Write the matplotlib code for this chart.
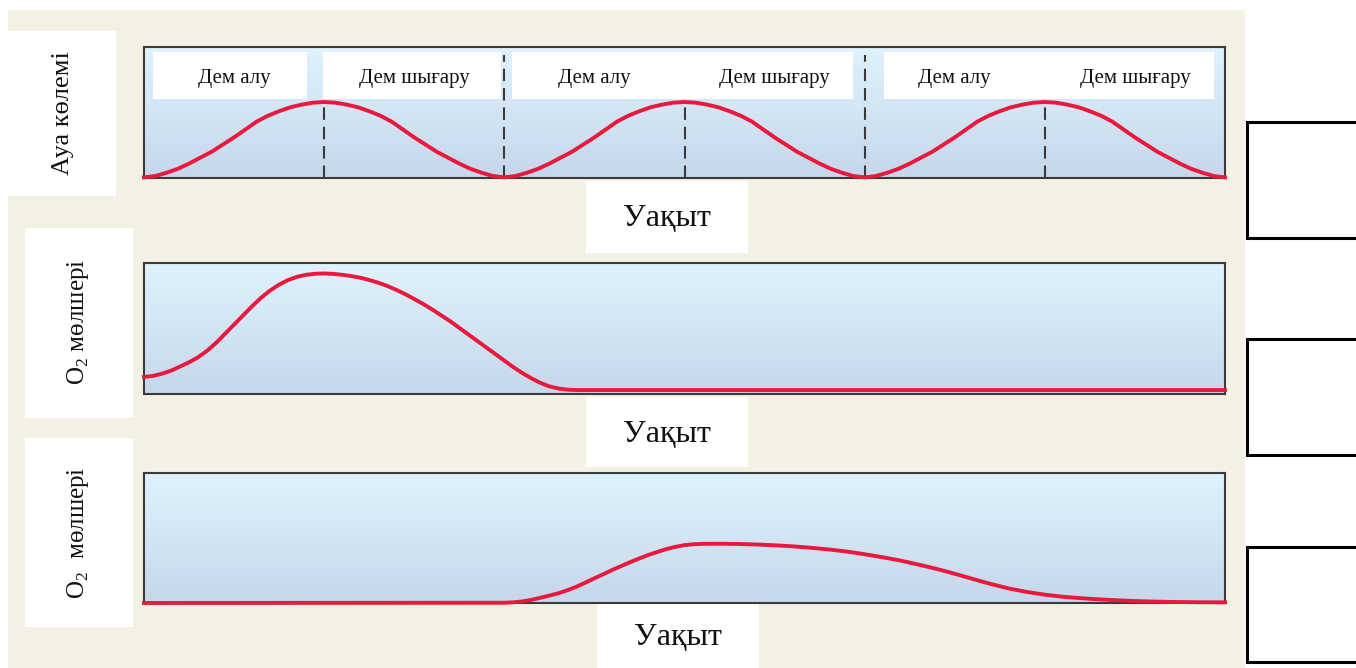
import numpy as np
import matplotlib.pyplot as plt
from matplotlib.patches import Rectangle

plt.rcParams['font.family'] = ['Liberation Serif', 'DejaVu Serif']
plt.rcParams['mathtext.fontset'] = 'custom'
plt.rcParams['mathtext.rm'] = 'Liberation Serif'

# Ауа көлемі (3 тыныс циклі), әр 0.125 бірлік сайын
t_air = np.arange(0, 12.001, 0.125)
air_volume = [0.05, 0.15, 0.4, 0.7, 1.1, 1.55, 2.0, 2.55, 3.1, 3.7, 4.3, 4.75, 5.1, 5.4, 5.6, 5.75,
              5.8, 5.75, 5.6, 5.4, 5.1, 4.75, 4.3, 3.7, 3.1, 2.55, 2.0, 1.55, 1.1, 0.7, 0.4, 0.15,
              0.05, 0.15, 0.4, 0.7, 1.1, 1.55, 2.0, 2.55, 3.1, 3.7, 4.3, 4.75, 5.1, 5.4, 5.6, 5.75,
              5.8, 5.75, 5.6, 5.4, 5.1, 4.75, 4.3, 3.7, 3.1, 2.55, 2.0, 1.55, 1.1, 0.7, 0.4, 0.15,
              0.05, 0.15, 0.4, 0.7, 1.1, 1.55, 2.0, 2.55, 3.1, 3.7, 4.3, 4.75, 5.1, 5.4, 5.6, 5.75,
              5.8, 5.75, 5.6, 5.4, 5.1, 4.75, 4.3, 3.7, 3.1, 2.55, 2.0, 1.55, 1.1, 0.7, 0.4, 0.15,
              0.05]
phase_labels = ["Дем алу", "Дем шығару", "Дем алу", "Дем шығару", "Дем алу", "Дем шығару"]
phase_mid = [1, 3, 5, 7, 9, 11]
peak_marks = [2, 6, 10]
cycle_marks = [4, 8]

# O2 мөлшері, 2-график
t_o2a = [0.0, 0.1, 0.2, 0.3, 0.4, 0.5, 0.6, 0.7, 0.8, 0.9, 1.0, 1.1, 1.2, 1.3, 1.4, 1.5,
         1.6, 1.7, 1.8, 1.9, 2.0, 2.1, 2.2, 2.3, 2.4, 2.5, 2.6, 2.7, 2.8, 2.9, 3.0, 3.1,
         3.2, 3.3, 3.4, 3.5, 3.6, 3.7, 3.8, 3.9, 4.0, 4.1, 4.2, 4.3, 4.4, 4.5, 4.6, 4.7,
         4.8, 12.0]
o2a = [1.3, 1.38, 1.55, 1.78, 2.1, 2.42, 2.8, 3.3, 3.9, 4.6, 5.3, 6.0, 6.7, 7.35, 7.9, 8.35,
       8.7, 8.95, 9.1, 9.18, 9.2, 9.17, 9.1, 9.0, 8.88, 8.7, 8.5, 8.25, 7.95, 7.62, 7.25, 6.87,
       6.45, 6.0, 5.55, 5.05, 4.55, 4.05, 3.55, 3.05, 2.55, 2.05, 1.6, 1.2, 0.85, 0.58, 0.42, 0.33,
       0.3, 0.3]

# O2 мөлшері, 3-график
t_o2b = [0.0, 4.0, 4.1, 4.2, 4.3, 4.4, 4.5, 4.6, 4.7, 4.8, 4.9, 5.0, 5.1, 5.2, 5.3, 5.4,
         5.5, 5.6, 5.7, 5.8, 5.9, 6.0, 6.1, 6.2, 6.4, 6.6, 6.8, 7.0, 7.2, 7.4, 7.6, 7.8,
         8.0, 8.2, 8.4, 8.6, 8.8, 9.0, 9.2, 9.4, 9.6, 9.8, 10.0, 10.2, 10.4, 10.6, 10.8, 11.0,
         11.2, 11.4, 11.7, 12.0]
o2b = [0.0, 0.02, 0.05, 0.12, 0.24, 0.4, 0.57, 0.75, 0.98, 1.25, 1.57, 1.9, 2.22, 2.55, 2.85, 3.15,
       3.43, 3.7, 3.93, 4.15, 4.32, 4.45, 4.52, 4.55, 4.56, 4.54, 4.5, 4.44, 4.36, 4.25, 4.12, 3.96,
       3.75, 3.52, 3.26, 2.95, 2.62, 2.25, 1.85, 1.46, 1.12, 0.85, 0.64, 0.48, 0.37, 0.28, 0.21, 0.15,
       0.11, 0.08, 0.06, 0.05]

W, H = 1356, 668
red = "#e8193c"
beige = "#f3f1e4"
dark = "#3a3a3a"

fig = plt.figure(figsize=(W / 100, H / 100), dpi=100)

bg = fig.add_axes([0, 0, 1, 1])
bg.set_xlim(0, W)
bg.set_ylim(H, 0)
bg.axis("off")
bg.add_patch(Rectangle((8, 10), 1237, 660, color=beige, lw=0))


def box(x0, y0, x1, y1, ec="none", lw=0):
    bg.add_patch(Rectangle((x0, y0), x1 - x0, y1 - y0, fc="white", ec=ec, lw=lw))


# подписи осей
box(8, 31, 116, 196)
box(25, 228, 133, 418)
box(25, 438, 133, 627)
bg.text(63, 113, "Ауа көлемі", rotation=90, ha="center", va="center", fontsize=19, color="#111")
bg.text(78, 322, "O$_2$ мөлшері", rotation=90, ha="center", va="center", fontsize=18, color="#111")
bg.text(78, 533, "O$_2$  мөлшері", rotation=90, ha="center", va="center", fontsize=18, color="#111")

# Уақыт
for (x0, y0, x1, y1) in [(586, 181, 748, 253), (586, 397, 748, 467), (597, 603, 759, 668)]:
    box(x0, y0, x1, y1)
    bg.text((x0 + x1) / 2, (y0 + y1) / 2 + 2, "Уақыт", ha="center", va="center", fontsize=23, color="#111")

# оң жақтағы бос ұяшықтар
for (y0, y1) in [(122, 238), (339, 455), (547, 662)]:
    box(1247, y0, 1370, y1, ec="black", lw=2.2)


def panel(y_top, y_bot):
    ax = fig.add_axes([144 / W, 1 - y_bot / H, (1225 - 144) / W, (y_bot - y_top) / H])
    grad = np.linspace(0, 1, 100).reshape(-1, 1)
    c_top = np.array([0.878, 0.949, 0.988])
    c_bot = np.array([0.780, 0.843, 0.925])
    img = c_top + grad[:, :, None] * (c_bot - c_top)
    ax.imshow(img[::-1], extent=[0, 12, 0, 10], aspect="auto", origin="lower", zorder=0)
    ax.set_xlim(0, 12)
    ax.set_ylim(0, 10)
    ax.set_xticks([])
    ax.set_yticks([])
    for s in ax.spines.values():
        s.set_color(dark)
        s.set_linewidth(1.5)
    return ax


ax1 = panel(47, 178)
ax2 = panel(263, 394)
ax3 = panel(473, 603)

# тақырып жолақтары
for (x0, x1) in [(0.1, 1.81), (1.99, 3.96), (4.09, 7.87), (8.22, 11.88)]:
    ax1.add_patch(Rectangle((x0, 6.0), x1 - x0, 3.65, fc="white", ec="none", zorder=1))
for xm, lab in zip(phase_mid, phase_labels):
    ax1.text(xm, 7.6, lab, ha="center", va="center", fontsize=15, color="#111", zorder=2)

for xm in peak_marks:
    ax1.plot([xm, xm], [0, 5.8], color=dark, lw=1.5, ls=(0, (6, 3.3)), zorder=2)
for xm in cycle_marks:
    ax1.plot([xm, xm], [0, 9.4], color=dark, lw=1.5, ls=(0, (6, 3.3)), zorder=2)

ax1.plot(t_air, air_volume, color=red, lw=2.8, zorder=3, clip_on=False)
ax2.plot(t_o2a, o2a, color=red, lw=2.8, zorder=3, clip_on=False)
ax3.plot(t_o2b, o2b, color=red, lw=2.8, zorder=3, clip_on=False)

fig.savefig("out.png", dpi=100)
